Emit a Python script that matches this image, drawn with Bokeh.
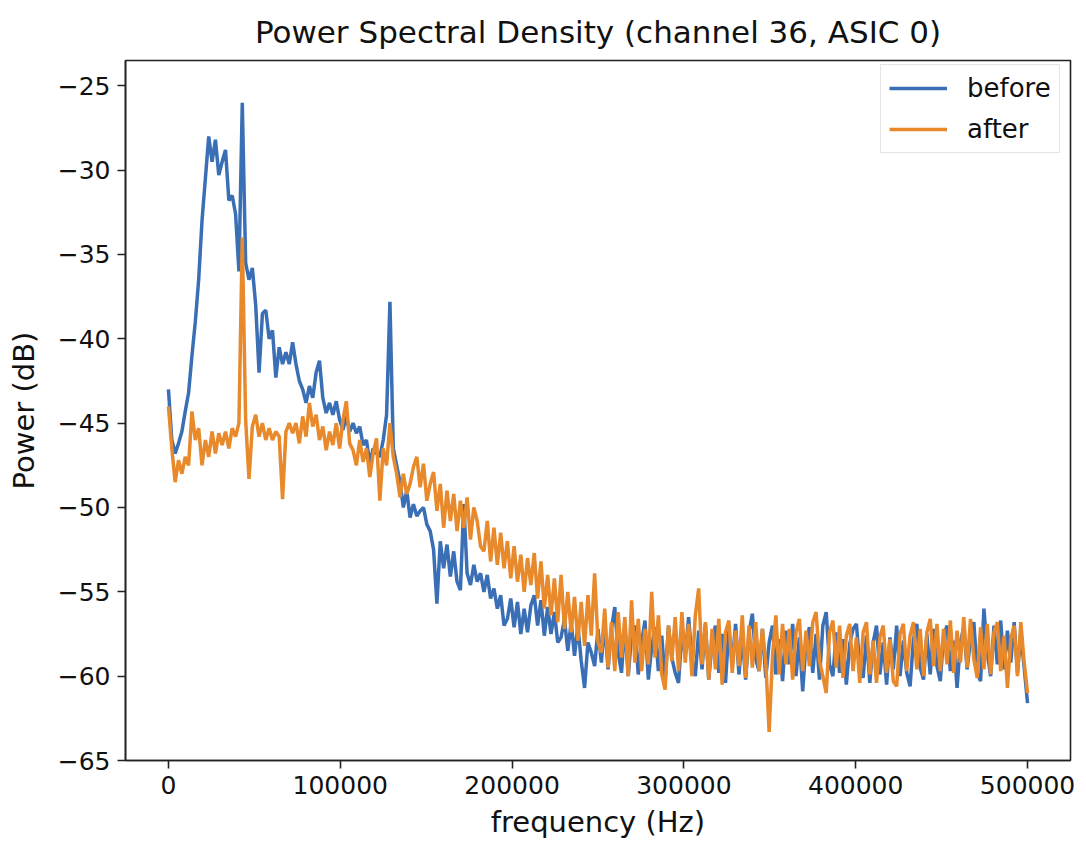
from bokeh.plotting import figure
from bokeh.models import FixedTicker, Legend, LegendItem, ColumnDataSource, Range1d, BasicTickFormatter
from bokeh.embed import file_html
from bokeh.resources import INLINE

n_bins = 257
freq_step = 1953.125
freq = [i * freq_step for i in range(n_bins)]

before = [
    -43.0, -46.0, -46.8, -46.2, -45.5, -44.3, -43.2, -41.0, -39.0, -36.5,
    -33.0, -30.5, -28.0, -29.5, -28.2, -30.3, -29.5, -28.8, -31.8, -31.5,
    -32.6, -36.0, -26.0, -35.5, -36.5, -35.8, -38.0, -42.0, -38.5, -38.3,
    -40.0, -39.5, -42.3, -40.5, -41.5, -40.8, -41.5, -40.2, -41.5, -42.5,
    -43.0, -43.8, -42.8, -43.5, -42.0, -41.3, -43.5, -44.4, -43.8, -44.5,
    -43.7, -44.8, -45.4, -44.6, -45.5, -45.0, -45.6, -45.2, -46.3, -46.0,
    -47.4, -46.5, -46.8, -47.0, -46.0, -44.5, -37.8, -46.5, -47.5, -48.5,
    -50.0, -49.0, -50.6, -49.8, -50.5, -50.2, -50.0, -51.0, -51.4, -52.5,
    -55.7, -52.0, -53.6, -52.2, -54.1, -52.6, -54.4, -54.9, -49.8, -53.9,
    -54.6, -53.4, -54.4, -53.9, -55.0, -54.0, -55.4, -54.8, -56.0, -55.2,
    -57.0, -56.6, -55.4, -57.1, -55.6, -57.5, -56.0, -57.4, -55.8, -55.2,
    -57.0, -55.5, -57.6, -55.9, -57.5, -56.2, -58.0, -57.7, -56.6, -58.5,
    -56.8, -58.8, -57.0, -59.1, -60.7, -58.0, -58.6, -59.4, -57.2,
    -59.2, -56.8, -59.6, -57.2, -55.9, -58.6, -59.8, -56.9, -60.0, -57.6,
    -57.0, -59.9, -58.0, -56.7, -60.2, -58.3, -57.1, -59.7, -57.6, -60.3,
    -57.0, -58.9, -59.8, -60.4, -57.4, -58.8, -56.5, -59.0, -60.0, -57.3,
    -59.6, -56.9, -60.2, -58.0, -57.0, -59.8, -57.5, -60.4, -57.1, -59.3,
    -56.9, -59.9, -57.6, -60.2, -57.4, -56.3, -59.0, -59.7, -57.2, -60.1,
    -58.0, -57.0, -59.9, -57.8, -60.3, -57.3, -59.3, -56.9, -60.0, -57.7,
    -60.9, -58.0, -57.1, -59.8, -57.5, -60.2, -57.0, -56.2, -59.3, -60.0,
    -57.4, -59.8, -57.8, -60.5, -58.1, -57.2, -56.9, -59.4, -60.1, -57.6,
    -60.4, -58.0, -57.0, -59.9, -58.0, -60.5, -57.7, -59.6, -57.0, -60.0,
    -57.9, -59.8, -60.6, -57.8, -56.9, -59.5, -60.2, -57.5, -59.9, -57.2,
    -59.4, -60.3, -57.6, -57.0, -59.7, -57.9, -60.7, -58.0, -57.1, -59.6,
    -57.8, -56.8, -59.8, -60.3, -56.0, -58.6, -60.0, -57.0, -59.3, -56.7,
    -59.6, -57.3, -59.2, -56.8, -59.8, -57.5, -59.5, -61.6,
]

after = [
    -44.0, -46.5, -48.5, -47.2, -48.0, -47.0, -47.5, -44.3, -46.0, -45.3,
    -47.5, -46.0, -47.0, -45.5, -46.8, -45.6, -46.3, -45.5, -46.5, -45.3,
    -45.8, -45.0, -34.0, -44.8, -48.3, -45.2, -44.5, -45.8, -45.0, -46.0,
    -45.3, -46.0, -45.5, -45.8, -49.5, -45.5, -45.0, -45.6, -45.0, -46.2,
    -44.6, -45.8, -43.8, -45.2, -44.5, -46.0, -45.2, -46.6, -45.5, -46.3,
    -45.0, -46.5, -44.8, -43.7, -46.2, -46.6, -47.5, -46.0, -47.3, -46.5,
    -48.2, -46.8, -45.9, -49.6, -46.5, -47.5, -45.0, -47.0, -48.0, -49.4,
    -48.0, -49.2, -48.6, -47.6, -47.0, -48.8, -47.4, -49.6, -48.6, -47.9,
    -50.2, -48.6, -51.2, -49.0, -50.8, -49.2, -51.4, -49.6, -51.2, -49.4,
    -51.9, -50.0, -50.8, -52.3, -52.6, -50.8, -53.2, -51.2, -53.4, -51.5,
    -53.6, -52.0, -54.2, -52.3, -54.4, -52.8, -55.0, -53.0, -54.6, -52.7,
    -55.4, -53.2, -56.0, -54.0, -56.4, -54.2, -56.8, -54.0, -57.2, -55.0,
    -57.4, -55.3, -57.9, -55.6, -58.2, -55.2, -57.6, -53.9, -58.0,
    -58.6, -56.0, -59.5, -56.8, -59.7, -56.2, -58.9, -56.5, -60.0, -55.5,
    -59.2, -56.6, -59.7, -57.2, -59.3, -55.0, -58.9, -56.4, -59.9, -60.8,
    -57.0, -59.1, -56.5, -59.7, -56.2, -59.2, -56.9, -60.0, -56.4, -54.8,
    -59.3, -56.8, -60.2, -57.2, -59.6, -56.6, -60.5, -57.4, -56.7, -59.8,
    -57.3, -59.4, -56.4, -60.1, -57.0, -59.5, -56.8, -59.7, -57.2, -59.2,
    -63.3, -58.8, -56.4, -59.9, -56.9, -59.3, -57.2, -60.2, -57.4, -56.6,
    -59.7, -57.3, -59.4, -56.8, -56.2, -59.1, -60.0, -61.0, -57.4, -56.7,
    -59.5, -57.0, -60.1, -57.6, -56.9, -59.7, -57.7, -60.4, -57.4, -56.8,
    -59.9, -57.9, -60.4, -57.7, -57.0, -59.8, -57.8, -60.3, -60.6, -57.5,
    -56.9, -59.7, -57.6, -56.8, -59.6, -57.2, -60.0, -57.4, -56.6, -59.4,
    -56.9, -59.7, -57.2, -59.3, -56.7, -59.8, -57.3, -59.2, -56.5, -59.5,
    -56.6, -59.0, -60.1, -57.1, -59.6, -56.9, -59.9, -57.4, -56.8, -59.7,
    -57.6, -60.7, -57.8, -57.0, -60.0, -56.8, -59.2, -61.0,
]

series_labels = ["before", "after"]
series_colors = ["#3a6fb5", "#e8892b"]
x_ticks = [0, 100000, 200000, 300000, 400000, 500000]
y_ticks = [-65, -60, -55, -50, -45, -40, -35, -30, -25]

FONT = "DejaVu Sans"

src = ColumnDataSource(data=dict(freq=freq, before=before, after=after))

p = figure(
    width=1086, height=844,
    output_backend="svg", toolbar_location=None,
    x_range=Range1d(-25000, 525000), y_range=Range1d(-65, -23.5),
    min_border_left=125, min_border_right=16, min_border_top=60, min_border_bottom=84,
    background_fill_color="white", border_fill_color="white",
)

p.title.text = "Power Spectral Density (channel 36, ASIC 0)"
p.title.text_font = FONT
p.title.text_font_size = "31px"
p.title.text_font_style = "normal"
p.title.align = "center"
p.title.text_color = "#111111"
p.title.standoff = 22

r_before = p.line("freq", "before", source=src, line_color=series_colors[0], line_width=3.5)
r_after = p.line("freq", "after", source=src, line_color=series_colors[1], line_width=3.5)

p.xgrid.visible = False
p.ygrid.visible = False
p.outline_line_color = "#222222"
p.outline_line_width = 1.6

for ax in (p.xaxis[0], p.yaxis[0]):
    ax.axis_line_color = "#222222"
    ax.axis_line_width = 1.6
    ax.major_tick_line_color = "#222222"
    ax.major_tick_line_width = 1.6
    ax.major_tick_out = 8
    ax.major_tick_in = 0
    ax.minor_tick_line_color = None
    ax.major_label_text_font = FONT
    ax.major_label_text_font_size = "25px"
    ax.major_label_text_color = "#111111"
    ax.axis_label_text_font = FONT
    ax.axis_label_text_font_size = "29px"
    ax.axis_label_text_font_style = "normal"
    ax.axis_label_text_color = "#111111"
    ax.major_label_standoff = 7

p.xaxis.ticker = FixedTicker(ticks=x_ticks)
p.xaxis.formatter = BasicTickFormatter(use_scientific=False)
p.xaxis.axis_label = "frequency (Hz)"
p.xaxis.axis_label_standoff = 8

p.yaxis.ticker = FixedTicker(ticks=y_ticks)
p.yaxis.major_label_overrides = {t: "\u2212" + str(abs(t)) for t in y_ticks}
p.yaxis.axis_label = "Power (dB)"
p.yaxis.axis_label_standoff = 14

legend = Legend(
    items=[LegendItem(label=series_labels[0], renderers=[r_before]),
           LegendItem(label=series_labels[1], renderers=[r_after])],
    location=(755, 607),
    margin=0,
    padding=8,
    spacing=11,
    glyph_width=58,
    glyph_height=30,
    label_height=30,
    label_standoff=20,
    label_text_font=FONT,
    label_text_font_size="26px",
    label_text_color="#111111",
    border_line_color="#cccccc",
    border_line_width=1.5,
    background_fill_color="white",
    background_fill_alpha=0.85,
)
p.add_layout(legend)

open("out.html", "w").write(file_html(p, INLINE))
